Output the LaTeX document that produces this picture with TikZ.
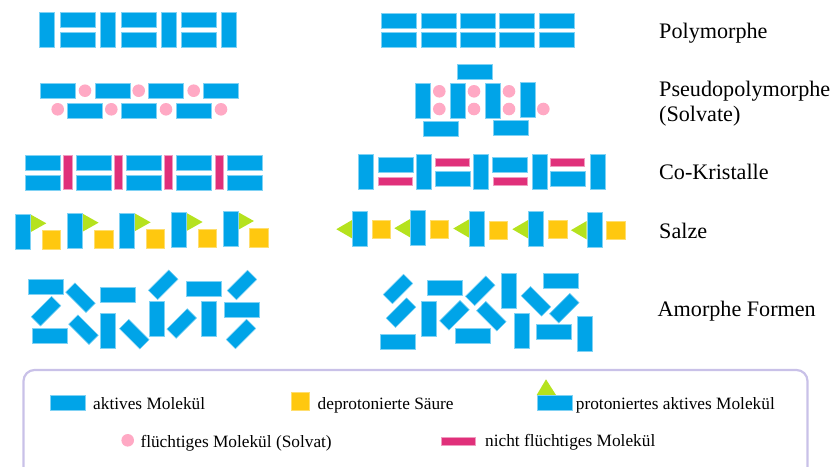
\documentclass[tikz,border=0pt]{standalone}
\usepackage{fontspec}
\setmainfont{Liberation Serif}
\definecolor{molblue}{HTML}{00A4E8}
\definecolor{moledge}{HTML}{80D2F4}
\definecolor{solvpink}{HTML}{FFA9C4}
\definecolor{nvmag}{HTML}{E0307A}
\definecolor{nvedge}{HTML}{F09CC0}
\definecolor{acidyel}{HTML}{FFC80F}
\definecolor{protgreen}{HTML}{B5E21E}
\definecolor{boxlav}{HTML}{C9C1E8}
\tikzset{
  mol/.style={fill=molblue,draw=moledge,line width=0.5pt},
  nonvol/.style={fill=nvmag,draw=nvedge,line width=0.5pt},
  solv/.style={fill=solvpink},
  acid/.style={fill=acidyel,draw=acidyel!60,line width=0.4pt},
  prot/.style={fill=protgreen},
  frame/.style={draw=boxlav,line width=2.2pt,rounded corners=11pt},
  bigtxt/.style={anchor=base west,inner sep=0pt,font=\fontsize{22.15}{26}\selectfont},
  smalltxt/.style={anchor=base west,inner sep=0pt,font=\fontsize{17.3}{20}\selectfont},
}
% diagonal molecule: x, y, angle
\newcommand{\molR}[3]{\path[mol,shift={(#1,#2)},rotate=#3] (-14.4,-6.6) rectangle (14.4,6.6);}
\newcommand{\molH}[2]{\path[mol,shift={(#1,#2)}] (-17.5,-7.5) rectangle (17.5,7.5);}
\newcommand{\molV}[2]{\path[mol,shift={(#1,#2)}] (-7.5,-17.5) rectangle (7.5,17.5);}
\newcommand{\nvH}[2]{\path[nonvol,shift={(#1,#2)}] (-17.2,-4.2) rectangle (17.2,4.2);}
\newcommand{\nvV}[2]{\path[nonvol,shift={(#1,#2)}] (-4.2,-17.2) rectangle (4.2,17.2);}
\newcommand{\acidS}[2]{\path[acid,shift={(#1,#2)}] (-9.2,-9.2) rectangle (9.2,9.2);}
\newcommand{\solvC}[2]{\fill[solv] (#1,#2) circle (6.3);}
% salts: V molecule, triangle on right (or left), square
\newcommand{\saltL}[4]{\path[prot,shift={(#1,#2)}] (7.6,-17) -- (23.6,-8) -- (7.6,1) -- cycle; \molV{#1}{#2}\acidS{#3}{#4}}
\newcommand{\saltR}[4]{\path[prot,shift={(#1,#2)}] (-7.6,-9.2) -- (-23.4,0) -- (-7.6,9.2) -- cycle; \molV{#1}{#2}\acidS{#3}{#4}}
\begin{document}
\begin{tikzpicture}[x=1pt,y=-1pt]
\useasboundingbox (0,0) rectangle (832,466);
% Polymorphe
\foreach \x in {47,108,169,229} {\molV{\x}{30}}
\foreach \x in {77.5,138.5,199} {\molH{\x}{20}\molH{\x}{40}}
\foreach \x in {399,438.3,477.7,517,557} {\molH{\x}{20.3}\molH{\x}{40}}
% Pseudopolymorphe left
\foreach \x in {57.3,112.3,166,221} {\molH{\x}{91}}
\foreach \x in {84.7,139,193.3} {\molH{\x}{110.3}}
\foreach \x in {85,138.7,193.7} {\solvC{\x}{90.7}}
\foreach \x in {57.7,111.3,166,221} {\solvC{\x}{109.3}}
% Pseudopolymorphe right
\molH{475}{72}
\molV{422.3}{101}\molV{457.3}{100.3}\molV{492.3}{100.3}\molV{527.3}{100}
\foreach \x in {439.3,474,509} {\solvC{\x}{91.3}}
\foreach \x in {439.3,474,509,543.3} {\solvC{\x}{109}}
\molH{440.7}{128.3}\molH{510.3}{128}
% Co-Kristalle left
\foreach \x in {43,93.3,143.7,194,244.7} {\molH{\x}{162.3}\molH{\x}{182.3}}
\foreach \x in {67.8,118,168.5,219} {\nvV{\x}{172}}
% Co-Kristalle right
\molV{366}{171.8}\molV{424}{171.3}\molV{481}{172}\molV{539.3}{172}\molV{597.3}{171.3}
\molH{395.5}{165.2}\nvH{395.5}{181}
\nvH{452.2}{162.5}\molH{452.5}{178.3}
\molH{510}{165.2}\nvH{510}{181}
\nvH{567.5}{162.5}\molH{567.5}{178.3}
% Salze left
\saltL{22.7}{231.3}{51}{239.5}
\saltL{75}{230.7}{103.5}{239.2}
\saltL{127}{230.3}{155.3}{238.5}
\saltL{179}{230}{207}{238}
\saltL{230.3}{229}{258.7}{237.5}
% Salze right
\saltR{359.7}{229.2}{381.3}{229}
\saltR{417.7}{228.2}{439.2}{229.2}
\saltR{476.7}{228.5}{498.3}{230}
\saltR{535.7}{229.2}{557.8}{229}
\saltR{594.3}{230.2}{615.7}{230.2}
% Amorphe left
\molH{46}{287}\molH{50.2}{335.8}\molH{117.5}{294.8}\molH{203.7}{288.7}\molH{242}{309.5}
\molV{108}{330.3}\molV{157}{319}\molV{208.3}{319}
\molR{80.5}{297.7}{-45}\molR{83.5}{329.7}{-45}\molR{134.3}{334.2}{-45}
\molR{46}{311.2}{45}\molR{163.2}{284.8}{45}\molR{181.7}{323.5}{45}\molR{242}{285}{45}\molR{241}{334}{45}
% Amorphe right
\molH{397.5}{341.7}\molH{444.8}{288}\molH{472.5}{336}\molH{560.3}{280.8}\molH{553.5}{332}
\molV{428.3}{319}\molV{508.3}{290.8}\molV{521.7}{331}\molV{585}{333.7}
\molR{398}{289}{45}\molR{401}{312.7}{45}\molR{454.5}{315.3}{45}\molR{480.2}{290.8}{45}\molR{564.3}{308.2}{45}
\molR{491.3}{316.2}{-45}\molR{536}{301.3}{-45}
% Labels
\node[bigtxt] (lpoly) at (659,38) {Polymorphe};
\node[bigtxt] (lpseudo) at (659,96) {Pseudopolymorphe};
\node[bigtxt] (lsolv) at (659,121) {(Solvate)};
\node[bigtxt] (lco) at (659,179) {Co-Kristalle};
\node[bigtxt] (lsalz) at (659,238) {Salze};
\node[bigtxt] (lamor) at (657.5,316) {Amorphe Formen};
% Legend
\path[frame] (23.5,370) rectangle (807.5,480);
\molH{67.3}{403}
\node[smalltxt] (t1) at (93,409) {aktives Molekül};
\acidS{300.3}{401.2}
\node[smalltxt] (t2) at (317.5,409) {deprotonierte Säure};
\path[prot] (546,379.3) -- (556,395) -- (536.7,395) -- cycle;
\molH{554.5}{402.7}
\node[smalltxt] (t3) at (575.7,409) {protoniertes aktives Molekül};
\solvC{127.7}{440.3}
\node[smalltxt] (t4) at (140.3,447) {flüchtiges Molekül (Solvat)};
\nvH{458.5}{441.5}
\node[smalltxt] (t5) at (485,446) {nicht flüchtiges Molekül};
\end{tikzpicture}
\end{document}
